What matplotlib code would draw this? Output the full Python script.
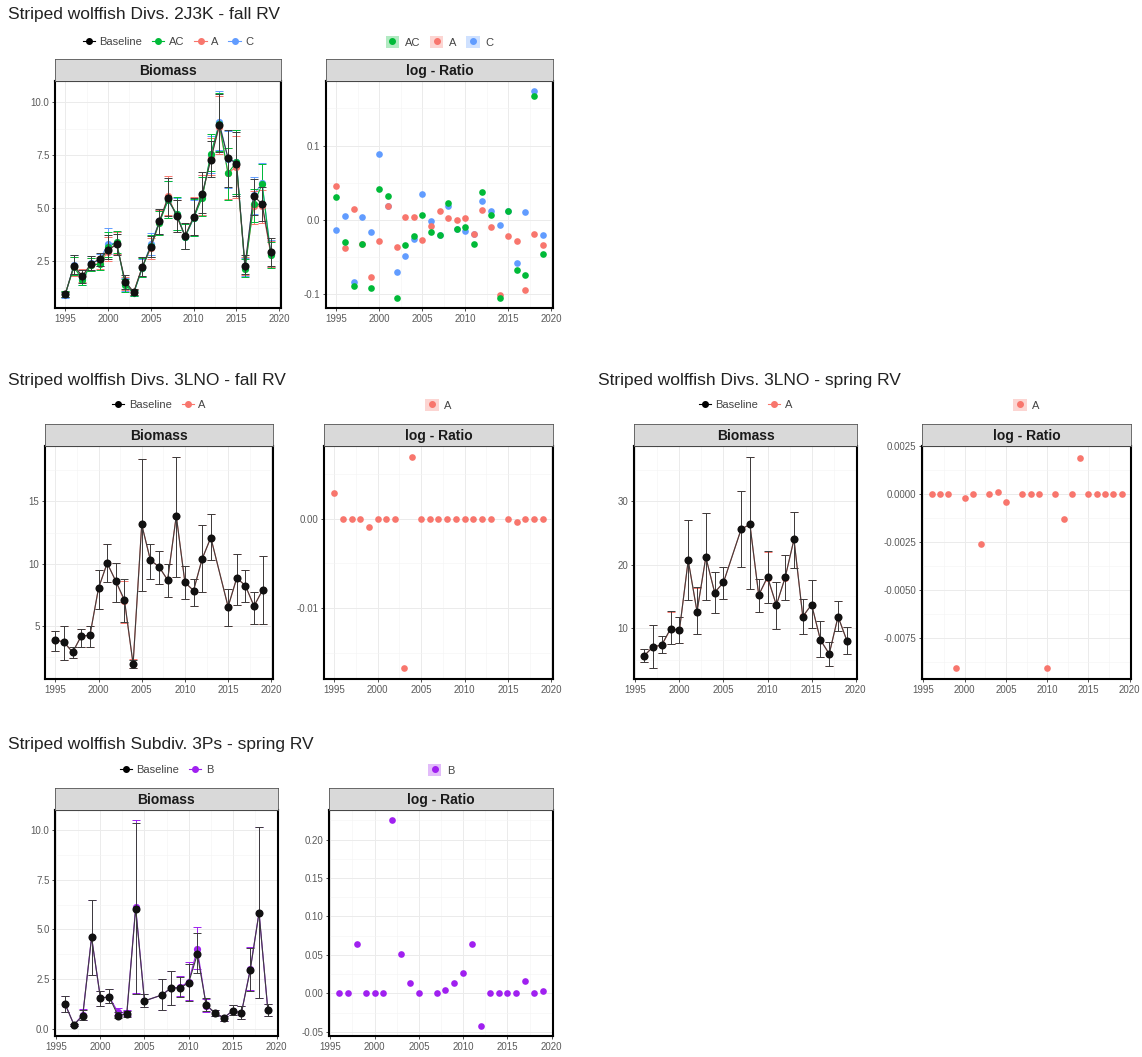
import matplotlib
matplotlib.use("Agg")
import matplotlib.pyplot as plt
import numpy as np
from matplotlib.lines import Line2D
from matplotlib.patches import Patch
from matplotlib.ticker import AutoMinorLocator, FormatStrFormatter

plt.rcParams["font.family"] = ["Liberation Sans", "DejaVu Sans"]
plt.rcParams["axes.unicode_minus"] = False

# ---- data: Divs. 2J3K fall ----
years_2j3k = [1995, 1996, 1997, 1998, 1999, 2000, 2001, 2002, 2003, 2004, 2005, 2006,
              2007, 2008, 2009, 2010, 2011, 2012, 2013, 2014, 2015, 2016, 2017, 2018, 2019]
base_2j3k = [0.94, 2.3, 1.8, 2.4, 2.6, 3.05, 3.3, 1.55, 1.05, 2.25, 3.2, 4.4,
             5.5, 4.65, 3.7, 4.6, 5.7, 7.3, 8.95, 7.4, 7.1, 2.3, 5.6, 5.2, 2.95]
lo_2j3k = [0.8, 1.9, 1.5, 2.1, 2.3, 2.6, 2.8, 1.2, 0.9, 1.8, 2.7, 3.8,
           4.65, 3.9, 3.1, 3.75, 4.8, 6.5, 7.65, 6.0, 5.6, 1.9, 4.7, 4.4, 2.3]
hi_2j3k = [1.05, 2.8, 2.1, 2.75, 2.9, 3.75, 3.8, 1.85, 1.2, 2.7, 3.7, 4.95,
           6.45, 5.4, 4.3, 5.5, 6.7, 8.2, 10.4, 8.7, 8.6, 2.8, 6.4, 6.0, 3.6]
lr_2j3k_ac = [0.030, -0.030, -0.089, -0.033, -0.092, 0.042, 0.032, -0.105, -0.034, -0.022,
              0.007, -0.016, -0.021, 0.023, -0.012, -0.010, -0.033, 0.037, 0.006, -0.105,
              0.012, -0.068, -0.075, 0.167, -0.046]
lr_2j3k_a = [0.045, -0.038, 0.014, -0.033, -0.077, -0.029, 0.019, -0.037, 0.004, 0.004,
             -0.027, -0.008, 0.012, 0.002, -0.001, 0.003, -0.019, 0.013, -0.010, -0.101,
             -0.022, -0.028, -0.095, -0.019, -0.034]
lr_2j3k_c = [-0.014, 0.005, -0.084, 0.004, -0.017, 0.088, 0.019, -0.070, -0.049, -0.026,
             0.035, -0.002, -0.021, 0.019, -0.012, -0.015, -0.019, 0.025, 0.012, -0.007,
             0.012, -0.058, 0.010, 0.173, -0.020]

# ---- data: Divs. 3LNO fall ----
years_3lno_f = [1995, 1996, 1997, 1998, 1999, 2000, 2001, 2002, 2003, 2004, 2005, 2006,
                2007, 2008, 2009, 2010, 2011, 2012, 2013, 2015, 2016, 2017, 2018, 2019]
base_3lno_f = [3.9, 3.7, 2.9, 4.2, 4.25, 8.05, 10.05, 8.6, 7.1, 1.95, 13.15, 10.3,
               9.75, 8.7, 13.85, 8.5, 7.85, 10.4, 12.1, 6.55, 8.85, 8.25, 6.6, 7.9]
lo_3lno_f = [3.0, 2.3, 2.4, 3.3, 3.3, 6.4, 8.5, 6.9, 5.3, 1.6, 7.8, 8.8,
             8.4, 7.3, 8.9, 7.2, 6.6, 7.7, 10.3, 5.0, 6.7, 6.9, 5.2, 5.2]
hi_3lno_f = [4.6, 5.0, 3.3, 4.8, 5.0, 9.5, 11.6, 10.1, 8.8, 2.3, 18.4, 11.6,
             11.0, 10.0, 18.6, 9.8, 8.8, 13.1, 14.0, 8.0, 10.8, 9.5, 7.7, 10.6]
lr_3lno_f_a = [0.0028, 0.0, 0.0, 0.0, -0.0009, 0.0, 0.0, 0.0, -0.0167, 0.0069, 0.0, 0.0,
               0.0, 0.0, 0.0, 0.0, 0.0, 0.0, 0.0, 0.0, -0.0004, 0.0, 0.0, 0.0]

# ---- data: Divs. 3LNO spring ----
years_3lno_s = [1996, 1997, 1998, 1999, 2000, 2001, 2002, 2003, 2004, 2005, 2007, 2008,
                2009, 2010, 2011, 2012, 2013, 2014, 2015, 2016, 2017, 2018, 2019]
base_3lno_s = [5.6, 7.0, 7.3, 9.9, 9.6, 20.7, 12.6, 21.2, 15.6, 17.2, 25.6, 26.4,
               15.2, 18.1, 13.6, 18.0, 24.0, 11.8, 13.7, 8.1, 5.9, 11.8, 8.0]
lo_3lno_s = [4.6, 3.6, 6.1, 7.5, 7.6, 14.4, 9.0, 14.4, 12.4, 14.6, 19.7, 16.1,
             12.6, 14.0, 9.8, 14.4, 19.5, 9.1, 10.0, 5.4, 4.0, 9.5, 5.8]
hi_3lno_s = [6.6, 10.4, 8.8, 12.7, 11.7, 27.0, 16.4, 28.1, 18.8, 19.7, 31.6, 37.1,
             17.7, 22.2, 17.2, 21.5, 28.4, 14.6, 17.6, 11.1, 7.8, 14.3, 10.1]
lr_3lno_s_a = [0.0, 0.0, 0.0, -0.0091, -0.0002, 0.0, -0.0026, 0.0, 0.0001, -0.0004, 0.0, 0.0,
               0.0, -0.0091, 0.0, -0.0013, 0.0, 0.0019, 0.0, 0.0, 0.0, 0.0, 0.0]

# ---- data: Subdiv. 3Ps spring ----
years_3ps = [1996, 1997, 1998, 1999, 2000, 2001, 2002, 2003, 2004, 2005, 2007, 2008,
             2009, 2010, 2011, 2012, 2013, 2014, 2015, 2016, 2017, 2018, 2019]
base_3ps = [1.24, 0.2, 0.66, 4.6, 1.55, 1.6, 0.66, 0.76, 6.05, 1.4, 1.7, 2.05,
            2.05, 2.3, 3.75, 1.2, 0.8, 0.55, 0.9, 0.8, 2.95, 5.85, 0.93]
lo_3ps = [0.82, 0.15, 0.42, 2.7, 1.15, 1.3, 0.55, 0.6, 1.75, 1.1, 0.95, 1.2,
          1.6, 1.4, 2.8, 0.9, 0.65, 0.4, 0.7, 0.5, 1.9, 1.55, 0.65]
hi_3ps = [1.65, 0.25, 0.95, 6.5, 1.9, 2.0, 0.85, 0.9, 10.35, 1.75, 2.5, 2.9,
          2.6, 3.25, 4.8, 1.55, 0.95, 0.65, 1.2, 1.15, 4.05, 10.15, 1.25]
lr_3ps_b = [0.0, 0.0, 0.064, 0.0, 0.0, 0.0, 0.225, 0.051, 0.014, 0.0, 0.0, 0.005,
            0.014, 0.027, 0.064, -0.042, 0.0, 0.0, 0.0, 0.0, 0.016, 0.0, 0.003]

x_ticks = [1995, 2000, 2005, 2010, 2015, 2020]

RED = "#F8766D"
GREEN = "#00BA38"
BLUE = "#619CFF"
PURPLE = "#A020F0"

W, H = 1142, 1057
fig = plt.figure(figsize=(W / 100, H / 100), dpi=100)


def px_axes(x0, x1, y0, y1):
    return fig.add_axes([x0 / W, 1 - y1 / H, (x1 - x0) / W, (y1 - y0) / H])


def add_strip(box, label):
    x0, x1, y0, _ = box
    sax = px_axes(x0, x1, y0 - 22, y0)
    sax.set_facecolor("#D9D9D9")
    sax.set_xticks([])
    sax.set_yticks([])
    for sp in sax.spines.values():
        sp.set_color("#555555")
        sp.set_linewidth(0.6)
    sax.text(0.5, 0.45, label, ha="center", va="center", fontsize=10,
             fontweight="bold", color="#1A1A1A", transform=sax.transAxes)


def style_panel(ax, yticks, yfmt):
    ax.set_xticks(x_ticks)
    ax.set_yticks(yticks)
    ax.yaxis.set_major_formatter(FormatStrFormatter(yfmt))
    ax.xaxis.set_minor_locator(AutoMinorLocator(2))
    ax.yaxis.set_minor_locator(AutoMinorLocator(2))
    ax.tick_params(which="major", length=2.5, width=0.6, color="#333333",
                   labelsize=7, labelcolor="#5A5A5A", pad=1.5)
    ax.tick_params(which="minor", length=0)
    ax.grid(True, which="major", color="#EBEBEB", linewidth=0.7)
    ax.grid(True, which="minor", color="#F3F3F3", linewidth=0.4)
    ax.set_axisbelow(True)
    for sp in ax.spines.values():
        sp.set_color("black")
        sp.set_linewidth(1.5)


def draw_series(ax, years, mid, lo, hi, colour, z, size, line_colour=None):
    mid = np.asarray(mid)
    err = [mid - np.asarray(lo), np.asarray(hi) - mid]
    ax.errorbar(years, mid, yerr=err, fmt="none", ecolor=line_colour or colour,
                elinewidth=0.7, capsize=2.8, capthick=0.7, zorder=z)
    ax.plot(years, mid, color=line_colour or colour, linewidth=0.8, zorder=z)
    ax.plot(years, mid, "o", color=colour, markersize=size, markeredgewidth=0, zorder=z + 0.5)


def biomass_panel(box, years, base, lo, hi, alts, yticks, yfmt, legend_y):
    ax = px_axes(*box)
    for name, colour, lr in reversed(alts):
        f = np.exp(np.asarray(lr))
        draw_series(ax, years, np.asarray(base) * f, np.asarray(lo) * f,
                    np.asarray(hi) * f, colour, 2, 5.2)
    draw_series(ax, years, base, lo, hi, "#111111", 3, 5.8, line_colour="#3C3C3C")
    style_panel(ax, yticks, yfmt)
    add_strip(box, "Biomass")
    handles = [Line2D([], [], color="black", marker="o", markersize=4, linewidth=0.8)]
    labels = ["Baseline"]
    for name, colour, _ in alts:
        handles.append(Line2D([], [], color=colour, marker="o", markersize=4, linewidth=0.8))
        labels.append(name)
    cx = (box[0] + box[1]) / 2 / W
    fig.legend(handles, labels, loc="center", bbox_to_anchor=(cx, 1 - legend_y / H),
               ncol=len(labels), frameon=False, fontsize=8, handlelength=1.1,
               handletextpad=0.4, columnspacing=0.9, labelcolor="#444444")
    return ax


def ratio_panel(box, years, alts, yticks, yfmt, legend_y):
    ax = px_axes(*box)
    for name, colour, lr in reversed(alts):
        ax.plot(years, lr, "o", color=colour, markersize=4.8, markeredgewidth=0, zorder=3)
    style_panel(ax, yticks, yfmt)
    add_strip(box, "log - Ratio")
    handles = [(Patch(facecolor=colour, alpha=0.3, edgecolor="none"),
                Line2D([], [], color=colour, marker="o", markersize=4, linewidth=0))
               for _, colour, _ in alts]
    labels = [name for name, _, _ in alts]
    cx = (box[0] + box[1]) / 2 / W
    fig.legend(handles, labels, loc="center", bbox_to_anchor=(cx, 1 - legend_y / H),
               ncol=len(labels), frameon=False, fontsize=8, handlelength=1.2,
               handleheight=1.2, handletextpad=0.5, columnspacing=0.9, labelcolor="#444444")
    return ax


def title(x, y, text):
    fig.text(x / W, 1 - y / H, text, ha="left", va="center", fontsize=12.5, color="#222222")


# row 1: 2J3K fall
alts_2j3k = [("AC", GREEN, lr_2j3k_ac), ("A", RED, lr_2j3k_a), ("C", BLUE, lr_2j3k_c)]
title(8, 15, "Striped wolffish Divs. 2J3K - fall RV")
biomass_panel((55, 281, 81, 308), years_2j3k, base_2j3k, lo_2j3k, hi_2j3k, alts_2j3k,
              [2.5, 5.0, 7.5, 10.0], "%.1f", 42)
ratio_panel((326, 553, 81, 308), years_2j3k, alts_2j3k, [-0.1, 0.0, 0.1], "%.1f", 42)

# row 2 left: 3LNO fall
alts_3lno_f = [("A", RED, lr_3lno_f_a)]
title(8, 380, "Striped wolffish Divs. 3LNO - fall RV")
biomass_panel((45, 273, 446, 679), years_3lno_f, base_3lno_f, lo_3lno_f, hi_3lno_f,
              alts_3lno_f, [5, 10, 15], "%d", 405)
ratio_panel((324, 553, 446, 679), years_3lno_f, alts_3lno_f, [-0.01, 0.0], "%.2f", 405)

# row 2 right: 3LNO spring
alts_3lno_s = [("A", RED, lr_3lno_s_a)]
title(598, 380, "Striped wolffish Divs. 3LNO - spring RV")
biomass_panel((634, 857, 446, 679), years_3lno_s, base_3lno_s, lo_3lno_s, hi_3lno_s,
              alts_3lno_s, [10, 20, 30], "%d", 405)
ratio_panel((922, 1131, 446, 679), years_3lno_s, alts_3lno_s,
            [-0.0075, -0.005, -0.0025, 0.0, 0.0025], "%.4f", 405)

# row 3: 3Ps spring
alts_3ps = [("B", PURPLE, lr_3ps_b)]
title(8, 745, "Striped wolffish Subdiv. 3Ps - spring RV")
biomass_panel((55, 278, 810, 1036), years_3ps, base_3ps, lo_3ps, hi_3ps, alts_3ps,
              [0.0, 2.5, 5.0, 7.5, 10.0], "%.1f", 770)
ratio_panel((329, 553, 810, 1036), years_3ps, alts_3ps,
            [-0.05, 0.0, 0.05, 0.10, 0.15, 0.20], "%.2f", 770)

fig.savefig("out.png", dpi=100)
plt.close(fig)
